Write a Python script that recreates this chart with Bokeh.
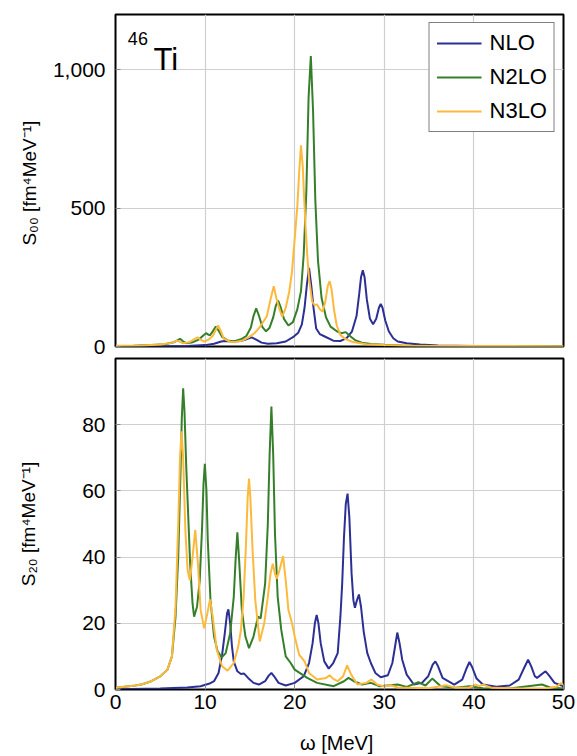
from bokeh.plotting import figure
from bokeh.layouts import column
from bokeh.models import FixedTicker, NumeralTickFormatter, Label, Range1d
from bokeh.embed import file_html
from bokeh.resources import INLINE

# ---------------- data ----------------
series_names = ["NLO", "N2LO", "N3LO"]
x_ticks = [0, 10, 20, 30, 40, 50]
top_y_ticks = [0, 500, 1000]
bot_y_ticks = [0, 20, 40, 60, 80]

# Top panel: S00
top_nlo_w = [0, 5, 8, 10, 11, 11.8, 12.2, 13, 14, 14.6, 15.2, 15.7, 16.3, 17, 18, 19, 19.9, 20.4, 20.8, 21.1,
             21.35, 21.6, 21.85, 22.1, 22.4, 22.8, 23.3, 24.3, 25.1, 25.8, 26.4, 26.9, 27.2, 27.4, 27.6,
             27.8, 28.05, 28.4, 28.75, 29.1, 29.4, 29.6, 29.8, 30.1, 30.5, 31.0, 31.5, 32.5, 34, 36, 40, 45, 50]
top_nlo_s = [0.5, 1, 2, 5, 10, 18, 20, 18, 20, 26, 33, 25, 14, 10, 12, 18, 36, 50, 80, 140,
             220, 284, 220, 140, 65, 45, 37, 21, 20, 30, 55, 110, 190, 250, 276,
             250, 170, 100, 80, 100, 140, 154, 140, 95, 55, 30, 18, 12, 7, 4, 2, 1, 1]

top_n2lo_w = [0, 2, 4, 5.5, 6.5, 7.0, 7.2, 7.5, 7.85, 8.5, 9.3, 9.8, 10.1, 10.4, 10.55, 10.8, 11.2, 11.5, 11.9, 12.5,
              13.2, 14.0, 14.6, 15.1, 15.4, 15.7, 16.0, 16.4, 16.8, 17.2, 17.6, 17.9, 18.15, 18.4, 18.8,
              19.3, 19.8, 20.3, 20.7, 21.0, 21.3, 21.55, 21.8, 22.05, 22.3, 22.6, 23.0, 23.5, 24.0, 24.7,
              25.2, 25.7, 26.1, 26.8, 27.5, 28.5, 30, 32, 35, 40, 45, 50]
top_n2lo_s = [2, 3, 5, 8, 15, 24, 28, 20, 12, 14, 25, 40, 48, 42, 41, 52, 72, 58, 35, 22,
              18, 26, 38, 68, 110, 138, 112, 70, 55, 68, 105, 148, 166, 145, 100,
              76, 88, 135, 200, 330, 560, 900, 1050, 850, 530, 310, 175, 105, 72, 55,
              48, 52, 40, 22, 14, 9, 6, 4, 3, 2, 1.5, 1]

top_n3lo_w = [0, 3, 5, 6.2, 6.9, 7.5, 8.2, 8.8, 9.15, 9.5, 9.9, 10.4, 10.9, 11.2, 11.45, 11.7, 12.1, 12.9, 13.5, 14.2,
              14.8, 15.5, 16.1, 16.6, 16.9, 17.3, 17.66, 17.95, 18.3, 18.6, 19.0, 19.4, 19.7, 20.0, 20.3,
              20.5, 20.7, 20.9, 21.05, 21.2, 21.4, 21.6, 21.95, 22.2, 22.5, 22.8, 23.1, 23.4, 23.7, 23.9,
              24.1, 24.4, 24.7, 25.1, 25.6, 26.5, 28, 30, 33, 40, 50]
top_n3lo_s = [3, 4, 7, 13, 21, 12, 15, 27, 33, 25, 18, 25, 40, 60, 76, 60, 28, 16, 17, 22,
              32, 48, 70, 95, 110, 170, 218, 175, 135, 108, 140, 200, 271, 390, 510,
              630, 727, 650, 540, 440, 330, 246, 162, 150, 152, 135, 126, 160, 220, 236,
              210, 130, 75, 42, 28, 16, 8, 5, 3, 2, 1]

# Bottom panel: S20
bot_nlo_w = [0, 5, 8, 9.5, 10.5, 11.0, 11.5, 11.9, 12.2, 12.45, 12.6, 12.8, 13.0, 13.2, 13.6, 14.0, 14.35, 14.8,
             15.4, 16.0, 16.7, 17.1, 17.4, 17.7, 18.2, 19.0, 20.0, 21.0, 21.6, 22.0, 22.25, 22.45, 22.65,
             22.9, 23.3, 23.8, 24.3, 24.8, 25.1, 25.3, 25.5, 25.7, 25.9, 26.1, 26.35, 26.55, 26.72, 26.95,
             27.17, 27.4, 27.7, 28.1, 28.5, 29.0, 29.6, 30.4, 30.9, 31.2, 31.45, 31.7, 32.0, 32.5, 33.3,
             34.2, 34.9, 35.4, 35.7, 36.0, 36.5, 37.8, 38.7, 39.2, 39.5, 39.8, 40.3, 41.0, 42.5, 44.0,
             45.0, 45.6, 46.05, 46.4, 46.8, 47.05, 47.5, 48.0, 48.4, 49.0, 50]
bot_nlo_s = [0.1, 0.3, 0.6, 1, 1.8, 2.5, 5, 10.5, 17, 23, 24.2, 20, 13, 8.5, 5.5, 4.7, 4.8, 3.5,
             2, 1.5, 2.5, 4.2, 5, 4, 2, 1.2, 2, 4, 8, 14, 20, 22.5, 20,
             14, 8.5, 6.3, 8, 11, 22, 32, 46, 56, 59.2, 52, 35, 27, 24.7, 27,
             28.7, 25, 17.5, 11, 8, 5, 3.7, 4.3, 8, 13, 17.2, 14, 9, 4.5, 1.5,
             2, 4, 7.5, 8.5, 7, 3.5, 1.5, 3, 6.5, 8.3, 6.8, 3.3, 1.5, 0.8, 1.2,
             3, 6.5, 9, 7, 4, 3.5, 4.5, 5.5, 4.2, 2, 1]

bot_n2lo_w = [0, 1, 2, 3, 4, 5, 5.8, 6.3, 6.7, 7.0, 7.25, 7.4, 7.55, 7.7, 7.9, 8.05, 8.33, 8.6, 8.77, 9.1,
              9.4, 9.65, 9.82, 9.97, 10.15, 10.3, 10.6, 11.0, 11.4, 11.86, 12.3, 12.8, 13.2, 13.4, 13.6,
              13.8, 14.1, 14.5, 14.9, 15.4, 15.9, 16.2, 16.7, 17.0, 17.2, 17.4, 17.6, 17.8, 18.1, 18.5,
              19.0, 19.55, 20.0, 21.4, 22.5, 24.35, 25.5, 26.0, 26.6, 27.5, 28.5, 29.5, 31.5, 32.5, 33.8,
              34.6, 35.35, 36.3, 38, 39.5, 41, 44, 47.6, 48.5, 50]
bot_n2lo_s = [0.5, 0.8, 1.1, 1.6, 2.5, 4, 6, 10, 22, 40, 65, 82, 91, 84, 67, 57, 38, 26, 22, 25,
              33, 48, 62, 68.2, 60, 45, 27, 16, 11.5, 9.7, 11, 17, 28, 39, 47.5,
              39, 24, 16, 12.5, 16, 22, 21.5, 32, 50, 71, 85.5, 71, 47, 28, 18,
              10, 8, 6, 3.5, 2, 1, 2.5, 3.5, 2.5, 1.5, 2, 1, 1.5, 0.8, 2.2,
              1.2, 3.3, 1, 0.5, 1, 0.4, 0.3, 1.5, 0.6, 0.3]

bot_n3lo_w = [0, 1, 2, 3, 4, 5, 5.8, 6.3, 6.7, 7.0, 7.2, 7.37, 7.55, 7.8, 8.05, 8.3, 8.6, 8.9, 9.2, 9.5,
              9.9, 10.25, 10.55, 10.85, 11.3, 11.9, 12.5, 13.2, 13.7, 14.0, 14.3, 14.55, 14.75, 14.9, 15.05,
              15.3, 15.6, 16.1, 16.6, 17.0, 17.3, 17.55, 17.8, 18.0, 18.3, 18.7, 19.0, 19.3, 19.7, 20.0,
              20.5, 21.1, 21.6, 22.5, 23.5, 23.9, 24.3, 24.8, 25.4, 25.85, 26.3, 27.0, 28.0, 28.55, 29.2,
              30.0, 30.7, 31.5, 33, 35, 36.9, 38, 39.5, 40.2, 40.6, 41.0, 42, 45, 48, 49.2, 49.7, 50]
bot_n3lo_s = [0.5, 0.8, 1.1, 1.6, 2.5, 4, 6, 10, 25, 50, 70, 78, 70, 48, 36, 33, 40, 48.2, 38, 24,
              18.5, 23, 27.2, 22, 12, 7, 5.7, 8, 13, 18, 28, 43, 58, 63.7, 58,
              42, 27, 14.5, 20, 28, 35, 38, 35, 33.5, 36, 40.3, 33, 24, 20, 16,
              10.5, 8.5, 5, 3, 3.5, 4.3, 3.2, 2.5, 4, 7.3, 4.5, 1.5, 2, 3, 1.5,
              0.9, 1.3, 0.6, 0.5, 0.4, 1.3, 0.5, 0.6, 1.5, 1.0, 1.5, 0.5, 0.3, 0.3, 0.8, 1.9, 1.5]

colors = ["#2c2f94", "#357f2a", "#fdb93c"]

FONT = "Liberation Sans"
GRID = "#cfcfcf"


def style(p, yticks):
    p.outline_line_color = "black"
    p.outline_line_width = 2
    p.xgrid.ticker = FixedTicker(ticks=x_ticks)
    p.ygrid.ticker = FixedTicker(ticks=yticks)
    p.xgrid.grid_line_color = GRID
    p.ygrid.grid_line_color = GRID
    p.xgrid.grid_line_width = 1.2
    p.ygrid.grid_line_width = 1.2
    p.yaxis.ticker = FixedTicker(ticks=yticks)
    p.yaxis.major_tick_in = 5
    p.yaxis.major_tick_out = 0
    p.yaxis.minor_tick_line_color = None
    p.yaxis.major_label_text_font = FONT
    p.yaxis.major_label_text_font_size = "21px"
    p.yaxis.major_label_text_color = "black"
    p.yaxis.major_label_standoff = 10
    p.yaxis.axis_label_text_font = FONT
    p.yaxis.axis_label_text_font_size = "19px"
    p.yaxis.axis_label_text_font_style = "normal"
    p.yaxis.axis_label_text_color = "black"
    p.yaxis.major_tick_line_color = "#888888"


x_range = Range1d(0, 50)

top = figure(width=577, height=356, x_range=x_range, y_range=Range1d(0, 1200),
             output_backend="svg", toolbar_location=None, x_axis_location=None,
             min_border_left=115, min_border_right=14, min_border_top=14, min_border_bottom=10)
style(top, top_y_ticks)
top.yaxis.formatter = NumeralTickFormatter(format="0,0")
top.yaxis.axis_label = "S₀₀  [fm⁴MeV⁻¹]"
top.yaxis.axis_label_standoff = 10

for name, w, s, c in zip(series_names, [top_nlo_w, top_n2lo_w, top_n3lo_w],
                         [top_nlo_s, top_n2lo_s, top_n3lo_s], colors):
    top.line(w, s, line_color=c, line_width=2, legend_label=name)

top.legend.location = "top_right"
top.legend.margin = 8
top.legend.label_text_font = FONT
top.legend.label_text_font_size = "22px"
top.legend.label_text_color = "black"
top.legend.glyph_width = 45
top.legend.glyph_height = 22
top.legend.label_height = 22
top.legend.spacing = 8
top.legend.padding = 7
top.legend.label_standoff = 8
top.legend.border_line_color = "black"
top.legend.border_line_width = 1
top.legend.background_fill_alpha = 1

top.add_layout(Label(x=1.38, y=1115, text="46", text_font=FONT, text_font_size="18px",
                     text_color="black", text_baseline="alphabetic"))
top.add_layout(Label(x=4.25, y=1039, text="Ti", text_font=FONT, text_font_size="31px",
                     text_color="black", text_baseline="alphabetic"))

bot = figure(width=577, height=400, x_range=x_range, y_range=Range1d(0, 100),
             output_backend="svg", toolbar_location=None,
             min_border_left=115, min_border_right=14, min_border_top=2, min_border_bottom=67)
style(bot, bot_y_ticks)
bot.yaxis.axis_label = "S₂₀ [fm⁴MeV⁻¹]"
bot.yaxis.axis_label_standoff = 40
bot.xaxis.ticker = FixedTicker(ticks=x_ticks)
bot.xaxis.major_tick_in = 5
bot.xaxis.major_tick_out = 0
bot.xaxis.minor_tick_line_color = None
bot.xaxis.major_tick_line_color = "#888888"
bot.xaxis.major_label_text_font = FONT
bot.xaxis.major_label_text_font_size = "21px"
bot.xaxis.major_label_text_color = "black"
bot.xaxis.major_label_standoff = 5
bot.xaxis.axis_label = "ω  [MeV]"
bot.xaxis.axis_label_text_font = FONT
bot.xaxis.axis_label_text_font_size = "20px"
bot.xaxis.axis_label_text_font_style = "normal"
bot.xaxis.axis_label_text_color = "black"
bot.xaxis.axis_label_standoff = 20

for name, w, s, c in zip(series_names, [bot_nlo_w, bot_n2lo_w, bot_n3lo_w],
                         [bot_nlo_s, bot_n2lo_s, bot_n3lo_s], colors):
    bot.line(w, s, line_color=c, line_width=2)

layout = column(top, bot, spacing=0)
open("out.html", "w").write(file_html(layout, INLINE))
